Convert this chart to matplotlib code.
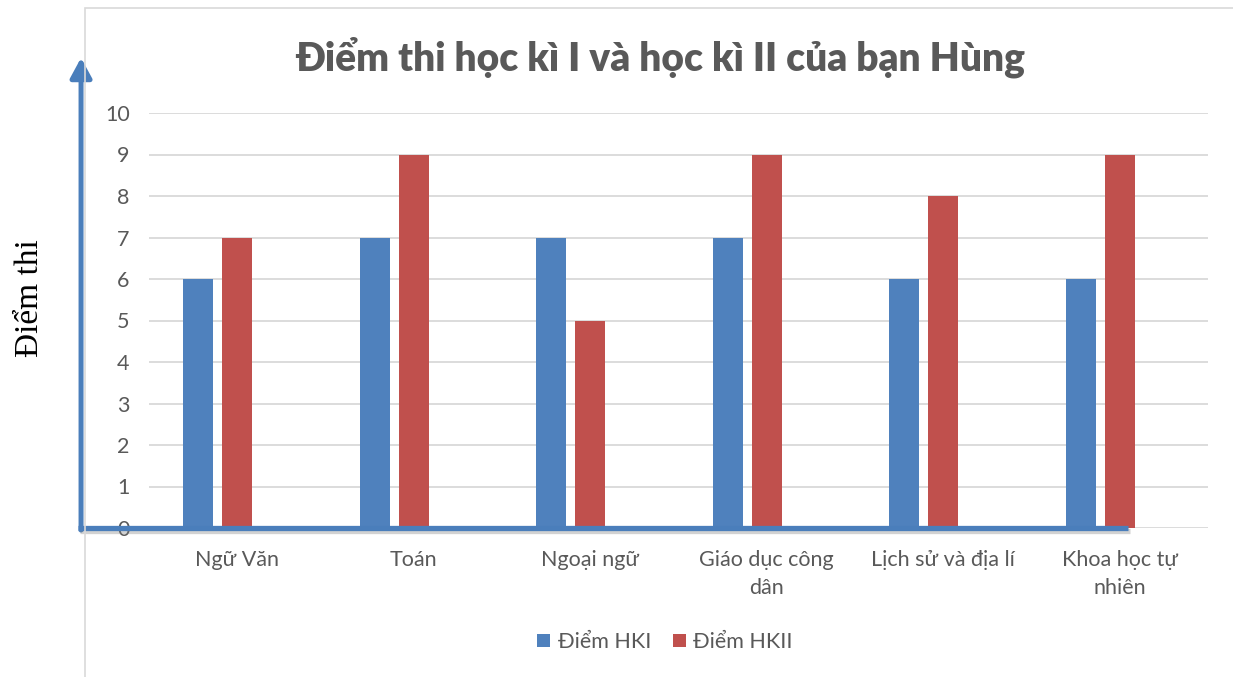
import numpy as np
import matplotlib.pyplot as plt
from matplotlib.patches import Rectangle
import matplotlib.patheffects as pe

plt.rcParams['font.family'] = ['Lato', 'DejaVu Sans']

# du lieu
mon_hoc = ["Ngữ Văn", "Toán", "Ngoại ngữ", "Giáo dục công\ndân",
           "Lịch sử và địa lí", "Khoa học tự\nnhiên"]
diem_hk1 = [6, 7, 7, 7, 6, 6]
diem_hk2 = [7, 9, 5, 9, 8, 9]
nhan_chuoi = ["Điểm HKI", "Điểm HKII"]
tieu_de = "Điểm thi học kì I và học kì II của bạn Hùng"

xanh = "#4F81BD"
do = "#C0504D"
xam = "#595959"

fig = plt.figure(figsize=(12.33, 6.77), dpi=100)
ax = fig.add_axes([149 / 1233, 1 - 528 / 677, (1208 - 149) / 1233, (528 - 113) / 677])

# khung ngoai cua bieu do
fig.add_artist(Rectangle((85 / 1233, -0.1), 1.2, 1 - 8 / 677 + 0.1,
                         transform=fig.transFigure, fill=False,
                         edgecolor="#D9D9D9", lw=1.2))

x = np.arange(len(mon_hoc))
w = 0.17
ax.bar(x - 0.222, diem_hk1, w, color=xanh, label=nhan_chuoi[0], zorder=3)
ax.bar(x, diem_hk2, w, color=do, label=nhan_chuoi[1], zorder=3)

ax.set_xlim(-0.5, len(mon_hoc) - 0.5)
ax.set_ylim(0, 10)
ax.set_yticks(range(0, 11))
ax.set_xticks(x)
ax.set_xticklabels(mon_hoc, fontsize=15.5, color=xam, linespacing=1.5)
ax.tick_params(axis='y', length=0, pad=14, labelsize=15.5, labelcolor=xam)
ax.tick_params(axis='x', length=0, pad=16)
ax.grid(axis='y', color="#D9D9D9", lw=1.3, zorder=0)
for s in ax.spines.values():
    s.set_visible(False)

# truc y co mui ten, truc x ve tay
ax.annotate("", xy=(-0.885, 11.33), xytext=(-0.885, -0.05),
            xycoords='data', annotation_clip=False,
            arrowprops=dict(arrowstyle="-|>,head_length=1.2,head_width=0.65",
                            color="#4A7EBB", lw=3.6, shrinkA=0, shrinkB=0),
            zorder=5)
ax.plot([-0.905, 5.047], [0, 0], color="#4A7EBB", lw=3.8, clip_on=False,
        solid_capstyle='butt', zorder=5,
        path_effects=[pe.SimpleLineShadow(offset=(1.5, -2), shadow_color='gray', alpha=0.35),
                      pe.Normal()])

fig.text(660 / 1233, 1 - 57 / 677, tieu_de, ha='center', va='center',
         fontsize=28, fontweight='heavy', color=xam)
fig.text(30 / 1233, 1 - 298 / 677, "Điểm thi", rotation=90, ha='center', va='center',
         fontsize=24, family=['Liberation Serif', 'DejaVu Serif'], color='black')

ax.legend(loc='center', bbox_to_anchor=(665 / 1233, 1 - 642 / 677),
          bbox_transform=fig.transFigure, ncol=2, frameon=False,
          fontsize=15.5, labelcolor=xam, handlelength=0.6, handleheight=0.6,
          handletextpad=0.35, columnspacing=1.0)

fig.savefig("out.png", dpi=100)
